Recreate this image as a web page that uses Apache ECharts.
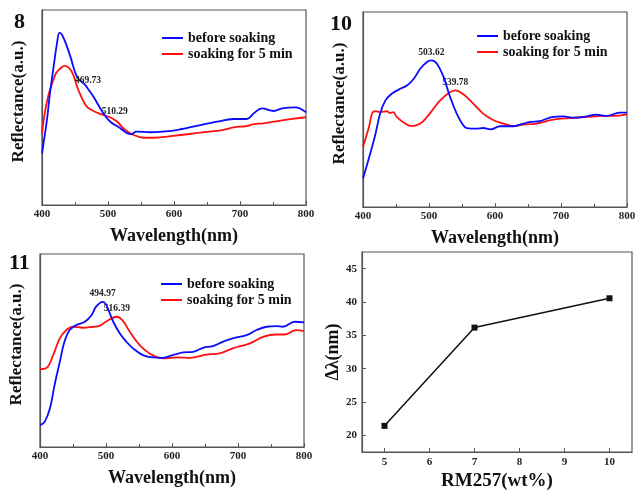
<!DOCTYPE html>
<html>
<head>
<meta charset="utf-8">
<script src="https://cdn.jsdelivr.net/npm/echarts@6/dist/echarts.min.js"></script>
<style>
  html, body { margin: 0; padding: 0; background: #fff; }
  #chart { width: 636px; height: 490px; }
</style>
</head>
<body>
<div id="chart"></div>
<script>
// Reflectance spectra (wavelength nm, reflectance a.u.) for samples 8, 10 and 11
const legendNames = ['before soaking', 'soaking for 5 min'];
const panelLabels = ['8', '10', '11'];

const before8 = [[400,26.5],[407.5,43.6],[411.6,56],[417.6,70.9],[422.7,82.9],[426.7,88.4],[433,85.5],[443,76.1],[453,65.8],[465.6,61.5],[469.73,59.5],[478,55.5],[493,47],[503.5,42.7],[518,39.5],[529,36.8],[535,36.3],[543,37.6],[564,37.3],[599,38.1],[614,39.1],[640,41],[665,42.7],[690,44.1],[710,44.1],[721,47],[733,49.6],[751,48.2],[764,49.6],[784,50.1],[800,47.5]];
const soaked8 = [[400,36.8],[408,53.8],[420,66.7],[426,69.5],[434,71.3],[445,68.4],[455,59],[466,51.3],[473,49.1],[488,46.7],[503,45],[510.29,43.6],[514,42.7],[526,38.5],[539,35.9],[554,34.5],[569,34.5],[599,35.4],[640,37.1],[675,38.5],[690,39.8],[710,40.5],[721,41.5],[736,41.9],[751,42.7],[776,44],[800,45]];

const before10 = [[400,14.6],[411,27.4],[419,37.6],[426,47.9],[434,54.7],[444,58.2],[454,60.2],[467,62.4],[477,65.8],[487,71],[497,74.4],[503.62,75.2],[512,73.5],[522,66.7],[532,56.4],[542,47.9],[550,42.8],[557,40.5],[572,40.2],[582,40.5],[593,39.8],[608,41.4],[628,41.4],[638,42.3],[653,43.6],[668,44.1],[688,46.2],[704,46.5],[719,45.8],[739,46.5],[754,47.4],[769,46.7],[789,48.4],[800,48.4]];
const soaked10 = [[400,30.8],[409,41],[414,48.2],[419,49.1],[426,48.7],[436,49.1],[441,48.2],[446,48.7],[451,46.2],[464,42.8],[474,41.5],[487,42.8],[497,46.2],[507,50.5],[517,54.7],[530,58.5],[539.78,59.8],[552,57.8],[567,53],[582,47.9],[598,44.5],[613,42.8],[628,41.5],[643,42.3],[663,42.8],[688,44.8],[714,45.6],[739,46.2],[764,46.7],[779,46.7],[800,47.5]];

const before11 = [[400,11.3],[407,13],[415,19.9],[422,32],[430,44.1],[437,54.5],[445,60.6],[455,63.2],[468,64.9],[478,68.3],[485,72.7],[494.97,75.2],[500,73.9],[511,64.9],[521,58.8],[531,54.5],[541,51.1],[556,47.6],[571,46.4],[586,46.2],[601,47.6],[617,49],[632,49.3],[647,51.4],[662,52.3],[677,54.5],[692,56.3],[713,58],[728,60.6],[743,62.3],[758,62.6],[768,62.3],[786,64.9],[800,64.6]];
const soaked11 = [[400,40.3],[410,41],[420,47.6],[430,56.3],[440,60.6],[450,62.3],[465,61.8],[480,62.3],[490,62.8],[500,64.9],[516.39,67.5],[526,65.2],[536,59.7],[551,52.8],[566,48.5],[581,46.2],[591,45.9],[607,46.4],[627,46.2],[642,47.1],[652,47.9],[672,48.5],[692,51.1],[718,53.7],[738,57.1],[758,58.3],[771,58.3],[788,60.6],[800,60]];

// Annotated peak wavelengths per panel: [before, soaked]
const peaks8 = [469.73, 510.29];
const peaks10 = [503.62, 539.78];
const peaks11 = [494.97, 516.39];

// Peak shift versus RM257 content
const rm257 = [5, 7, 10];
const deltaLambda = [21.42, 36.16, 40.56];

const FONT = 'Liberation Serif';
const AXIS_COLOR = '#555';
const BLUE = '#0a0aff';
const RED = '#ff1010';

const grids = [
  { left: 42, top: 10, width: 264, height: 195 },
  { left: 363, top: 12, width: 264, height: 195 },
  { left: 40, top: 254, width: 264, height: 193 },
  { left: 362, top: 252, width: 270, height: 200 }
].map(g => Object.assign({
  show: true, borderColor: AXIS_COLOR, borderWidth: 1.2,
  containLabel: false, outerBoundsMode: 'none'
}, g));

function spectrumX(i) {
  return {
    type: 'value', gridIndex: i, min: 400, max: 800, interval: 100,
    name: 'Wavelength(nm)', nameLocation: 'middle', nameGap: 22,
    nameTextStyle: { fontFamily: FONT, fontWeight: 'bold', fontSize: 18, color: '#111' },
    axisLine: { show: true, lineStyle: { color: AXIS_COLOR, width: 1.2 } },
    axisTick: { show: true, inside: true, length: 4, lineStyle: { color: AXIS_COLOR } },
    minorTick: { show: true, splitNumber: 2, length: 3, lineStyle: { color: AXIS_COLOR } },
    axisLabel: { fontFamily: FONT, fontWeight: 'bold', fontSize: 11, color: '#222', margin: 4 },
    splitLine: { show: false }
  };
}
function spectrumY(i) {
  return {
    type: 'value', gridIndex: i, min: 0, max: 100,
    name: 'Reflectance(a.u.)', nameLocation: 'middle', nameGap: 15,
    nameTextStyle: { fontFamily: FONT, fontWeight: 'bold', fontSize: 17, color: '#111', padding: [0, 0, 0, 12] },
    axisLine: { show: true, lineStyle: { color: AXIS_COLOR, width: 1.2 } },
    axisTick: { show: false }, axisLabel: { show: false }, splitLine: { show: false }
  };
}

// The point at the annotated peak wavelength carries a label stating that wavelength
function withPeakLabel(data, peak) {
  return data.map(d => d[0] === peak ? {
    value: d,
    label: {
      show: true, position: 'top', distance: 3,
      fontFamily: FONT, fontWeight: 'bold', fontSize: 9.5, color: '#222',
      formatter: p => p.value[0].toFixed(2)
    }
  } : d);
}

function spectrumSeries(i, data, peak, color, name) {
  return {
    type: 'line', name: name, xAxisIndex: i, yAxisIndex: i,
    data: withPeakLabel(data, peak),
    symbol: 'circle', symbolSize: 0, showSymbol: true, showAllSymbol: true,
    smooth: 0.4,
    lineStyle: { color: color, width: 1.8 }, itemStyle: { color: color },
    z: color === BLUE ? 3 : 2
  };
}

// Legend icon: a plain horizontal stroke
const LINE_ICON = 'path://M0,0 L21,0 L21,2 L0,2 Z';

function panelLegend(left, top) {
  return {
    data: legendNames.map(n => ({ name: n, icon: LINE_ICON })),
    left: left, top: top, orient: 'vertical',
    itemWidth: 21, itemHeight: 14, itemGap: 2, padding: 0,
    selectedMode: false,
    textStyle: { fontFamily: FONT, fontWeight: 'bold', fontSize: 14, color: '#111' }
  };
}

const titlePos = [[14, 11], [330, 13], [9, 252]];

const option = {
  animation: false,
  backgroundColor: '#fff',
  textStyle: { fontFamily: FONT },
  title: panelLabels.map((t, i) => ({
    text: t, left: titlePos[i][0], top: titlePos[i][1], padding: 0,
    textStyle: { fontFamily: FONT, fontWeight: 'bold', fontSize: 22, color: '#111', lineHeight: 22 }
  })),
  legend: [panelLegend(162, 31), panelLegend(477, 29), panelLegend(161, 277)],
  grid: grids,
  xAxis: [
    spectrumX(0), spectrumX(1), spectrumX(2),
    {
      type: 'value', gridIndex: 3, min: 4.5, max: 10.5, splitNumber: 6,
      name: 'RM257(wt%)', nameLocation: 'middle', nameGap: 20,
      nameTextStyle: { fontFamily: FONT, fontWeight: 'bold', fontSize: 19, color: '#111' },
      axisLine: { show: true, lineStyle: { color: AXIS_COLOR, width: 1.2 } },
      axisTick: { show: true, inside: true, length: 4, lineStyle: { color: AXIS_COLOR } },
      axisLabel: { fontFamily: FONT, fontWeight: 'bold', fontSize: 11, color: '#222', margin: 5,
                   showMinLabel: false, showMaxLabel: false },
      splitLine: { show: false }
    }
  ],
  yAxis: [
    spectrumY(0), spectrumY(1), spectrumY(2),
    {
      type: 'value', gridIndex: 3, min: 17.5, max: 47.5, splitNumber: 6,
      name: 'Δλ(nm)', nameLocation: 'middle', nameGap: 18,
      nameTextStyle: { fontFamily: FONT, fontWeight: 'bold', fontSize: 18, color: '#111' },
      axisLine: { show: true, lineStyle: { color: AXIS_COLOR, width: 1.2 } },
      axisTick: { show: true, inside: true, length: 4, lineStyle: { color: AXIS_COLOR } },
      axisLabel: { fontFamily: FONT, fontWeight: 'bold', fontSize: 11, color: '#222', margin: 5,
                   showMinLabel: false, showMaxLabel: false },
      splitLine: { show: false }
    }
  ],
  series: [
    spectrumSeries(0, before8, peaks8[0], BLUE, legendNames[0]),
    spectrumSeries(0, soaked8, peaks8[1], RED, legendNames[1]),
    spectrumSeries(1, before10, peaks10[0], BLUE, legendNames[0]),
    spectrumSeries(1, soaked10, peaks10[1], RED, legendNames[1]),
    spectrumSeries(2, before11, peaks11[0], BLUE, legendNames[0]),
    spectrumSeries(2, soaked11, peaks11[1], RED, legendNames[1]),
    {
      type: 'line', name: 'Δλ', xAxisIndex: 3, yAxisIndex: 3,
      data: rm257.map((x, k) => [x, deltaLambda[k]]),
      symbol: 'rect', symbolSize: 6, showSymbol: true,
      lineStyle: { color: '#111', width: 1.5 }, itemStyle: { color: '#111' }
    }
  ]
};

const chart = echarts.init(document.getElementById('chart'), null, { renderer: 'canvas' });
chart.setOption(option);
</script>
</body>
</html>
